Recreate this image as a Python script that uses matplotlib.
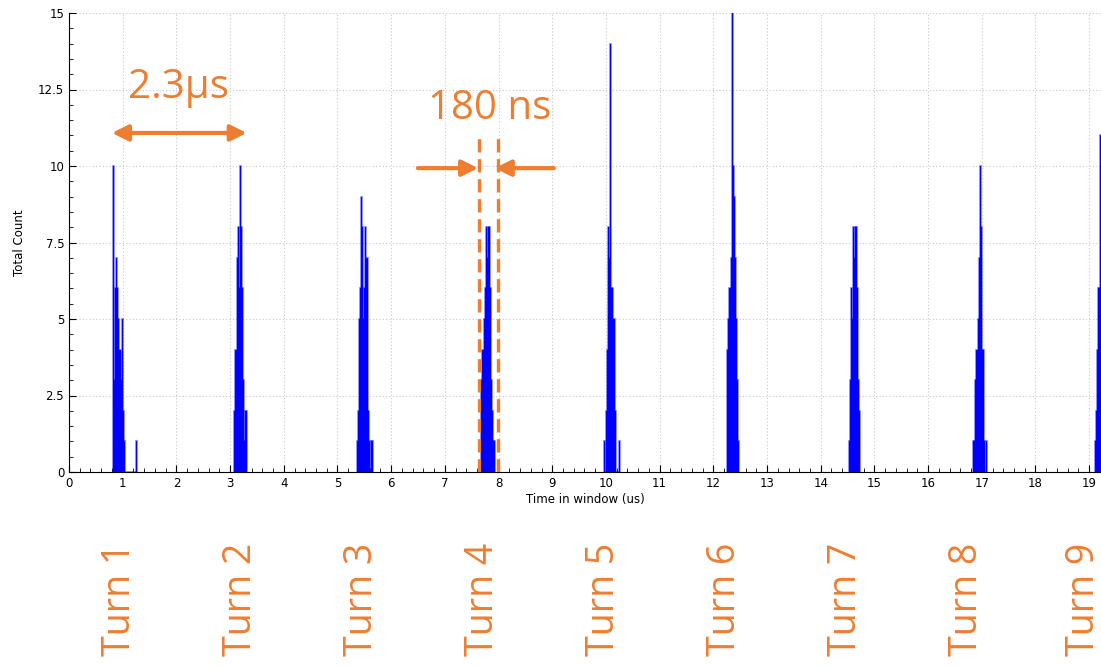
import matplotlib
matplotlib.use('Agg')
import matplotlib.pyplot as plt
from matplotlib.ticker import MultipleLocator

# histogram of hit times, 20 ns bins, one burst per turn
bin_width = 0.02
turn_starts = [0.82, 3.08, 5.36, 7.68, 9.96, 12.26, 14.52, 16.84, 19.10]
turn_counts = [
    [10, 3, 6, 7, 6, 5, 4, 3, 5, 2, 1, 0, 0, 0, 0, 0, 0, 0, 0, 0, 0, 1],
    [2, 4, 7, 8, 6, 10, 8, 6, 3, 1, 2, 2],
    [1, 2, 5, 6, 9, 8, 5, 6, 8, 7, 2, 1, 0, 1, 1],
    [3, 4, 5, 6, 8, 7, 8, 8, 6, 3, 2, 1, 1],
    [1, 0, 2, 4, 8, 7, 14, 6, 6, 5, 2, 0, 0, 0, 1],
    [4, 5, 6, 7, 15, 10, 9, 7, 5, 3, 1],
    [1, 3, 6, 5, 8, 7, 8, 8, 6, 3, 2],
    [1, 1, 3, 4, 5, 7, 10, 8, 4, 4, 1, 0, 1],
    [1, 2, 4, 6, 6, 11],
]
turn_labels = ['Turn %d' % (i + 1) for i in range(9)]

orange = '#ED7D31'

fig = plt.figure(figsize=(11.01, 6.68), dpi=100)
ax = fig.add_axes([69 / 1101, 1 - 472 / 668, 1 - 69 / 1101, (472 - 13) / 668])

for start, counts in zip(turn_starts, turn_counts):
    xs = [start + i * bin_width for i in range(len(counts))]
    ax.bar(xs, counts, width=bin_width, align='edge', color='#0000ff',
           edgecolor=(0, 0, 1, 0.5), linewidth=1.2, zorder=3)

ax.set_xlim(0, 19.22)
ax.set_ylim(0, 15)
ax.xaxis.set_major_locator(MultipleLocator(1))
ax.xaxis.set_minor_locator(MultipleLocator(0.2))
ax.yaxis.set_major_locator(MultipleLocator(2.5))
ax.yaxis.set_minor_locator(MultipleLocator(0.5))
ax.yaxis.set_major_formatter(plt.FuncFormatter(lambda v, p: '%g' % v))
ax.tick_params(which='both', direction='in', labelsize=8.5, colors='black')
ax.tick_params(which='major', length=5)
ax.tick_params(which='minor', length=3)
ax.grid(True, which='major', linestyle=(0, (1, 2)), color='#c8c8c8', linewidth=0.8)
ax.set_axisbelow(True)
for side in ['top', 'right']:
    ax.spines[side].set_visible(False)
ax.set_xlabel('Time in window (us)', fontsize=8.5, labelpad=2)
ax.set_ylabel('Total Count', fontsize=8.5, labelpad=9)

# 2.3 us turn period
ax.annotate('', xy=(0.80, 11.08), xytext=(3.31, 11.08),
            arrowprops=dict(arrowstyle='<|-|>', color=orange, lw=3,
                            mutation_scale=24, shrinkA=0, shrinkB=0),
            annotation_clip=False, zorder=5)
ax.text(2.03, 12.22, '2.3µs', color=orange, fontsize=29, family='Open Sans',
        ha='center', va='baseline', zorder=5)

# 180 ns bunch length
for xd in [7.635, 7.99]:
    ax.plot([xd, xd], [0, 11.08], color=orange, lw=2.4, linestyle=(0, (4, 2)), zorder=4)
ax.annotate('', xy=(7.62, 9.93), xytext=(6.50, 9.93),
            arrowprops=dict(arrowstyle='-|>', color=orange, lw=3,
                            mutation_scale=24, shrinkA=0, shrinkB=0), zorder=5)
ax.annotate('', xy=(7.93, 9.93), xytext=(9.03, 9.93),
            arrowprops=dict(arrowstyle='-|>', color=orange, lw=3,
                            mutation_scale=24, shrinkA=0, shrinkB=0), zorder=5)
ax.text(7.84, 11.54, '180 ns', color=orange, fontsize=29, family='Open Sans',
        ha='center', va='baseline', zorder=5)

# turn labels under the axis, last one pulled in to stay on the canvas
label_x = [120 + 121 * i for i in range(8)] + [1084]
for xp, label in zip(label_x, turn_labels):
    fig.text(xp / 1101, 1 - 656 / 668, label, rotation=90,
             color=orange, fontsize=27, family='Open Sans', ha='center', va='bottom')

fig.savefig('out.png', dpi=100)
